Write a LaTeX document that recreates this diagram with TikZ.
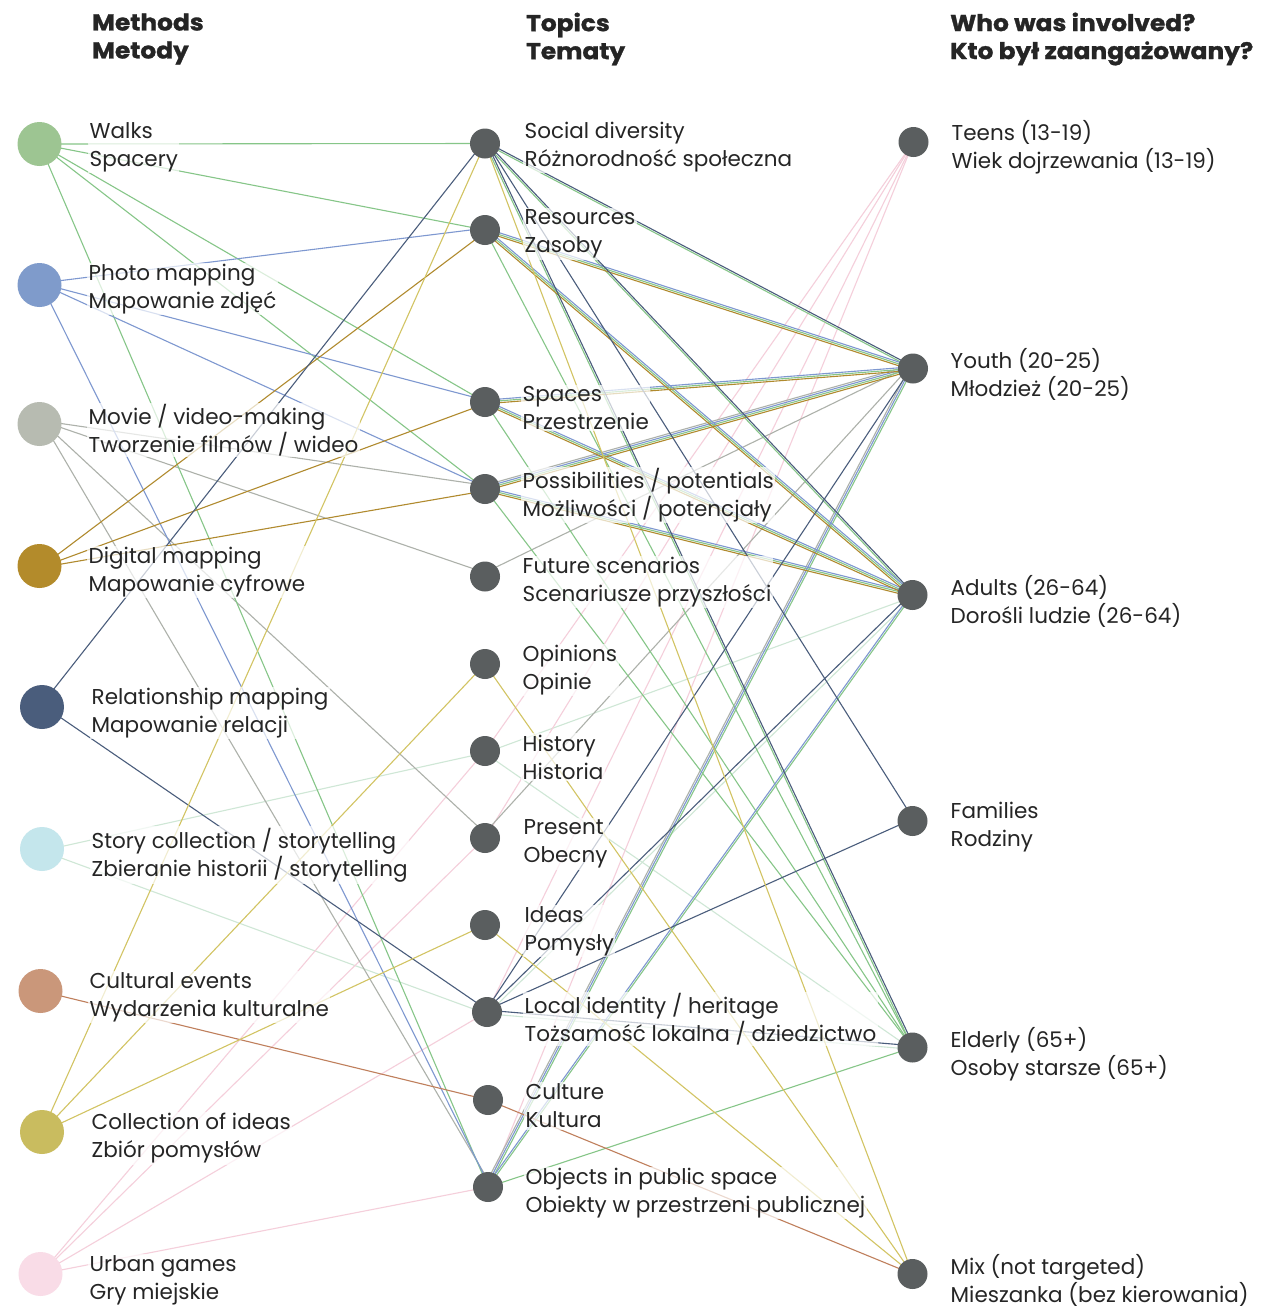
\documentclass[tikz,border=0pt]{standalone}
\usepackage{fontspec}
\setmainfont{Poppins}
\newfontfamily\headfont{Poppins}[FakeStretch=1.08,BoldFeatures={FakeBold=1.2}]
\usetikzlibrary{backgrounds,calc}
\definecolor{txt}{HTML}{252525}
\definecolor{dot}{HTML}{5A5E5F}
\definecolor{cWalk}{HTML}{9DC592}\definecolor{lWalk}{HTML}{86C688}
\definecolor{cPhoto}{HTML}{7F9BCB}\definecolor{lPhoto}{HTML}{7E98D0}
\definecolor{cMovie}{HTML}{B7BBB1}\definecolor{lMovie}{HTML}{ADB1AA}
\definecolor{cDigi}{HTML}{B38B2B}\definecolor{lDigi}{HTML}{B08A2E}
\definecolor{cRel}{HTML}{4A5D7C}\definecolor{lRel}{HTML}{4A5D7C}
\definecolor{cStory}{HTML}{C4E6EC}\definecolor{lStory}{HTML}{CFE7D6}
\definecolor{cCult}{HTML}{CA977A}\definecolor{lCult}{HTML}{BF7F5C}
\definecolor{cColl}{HTML}{C9BC5F}\definecolor{lColl}{HTML}{D2C463}
\definecolor{cUrban}{HTML}{F9DCE7}\definecolor{lUrban}{HTML}{F5CFDB}
\tikzset{
  meth/.style={circle,minimum size=44pt,inner sep=0pt,fill=#1,draw=none},
  dotnode/.style={circle,minimum size=30pt,inner sep=0pt,fill=dot,draw=none},
  lab/.style={anchor=west,align=left,text=txt,font=\fontsize{21.5}{28}\selectfont,
    fill=white,fill opacity=0.7,text opacity=1,inner sep=1.5pt},
  head/.style={anchor=west,align=left,text=txt,font=\headfont\bfseries\fontsize{23}{28}\selectfont,inner sep=0pt},
  lk/.style={draw=#1,line width=1.1pt}
}
\newcommand{\mlinks}[5]{%
  \foreach \t in {#4}{%
    \draw[lk=#2] ($(#1.center)!#3!90:(t\t.center)$) -- ($(t\t.center)!#3!-90:(#1.center)$);
    \foreach \g in {#5}{\draw[lk=#2] ($(t\t.center)!#3!90:(g\g.center)$) -- ($(g\g.center)!#3!-90:(t\t.center)$);}
  }}
\begin{document}
\begin{tikzpicture}[x=1pt,y=-1pt]
\useasboundingbox (0,0) rectangle (1283,1310);
% headers
\node[head] (h1) at (92,39) {Methods\\Metody};
\node[head] (h2) at (526,39) {Topics\\Tematy};
\node[head] (h3) at (950,39) {Who was involved?\\Kto był zaangażowany?};
% labels
\node[lab] (lm1) at (88,147) {Walks\\Spacery};
\node[lab] (lm2) at (87,289) {Photo mapping\\Mapowanie zdjęć};
\node[lab] (lm3) at (87,430) {Movie / video-making\\Tworzenie filmów / wideo};
\node[lab] (lm4) at (87,572) {Digital mapping\\Mapowanie cyfrowe};
\node[lab] (lm5) at (90,713) {Relationship mapping\\Mapowanie relacji};
\node[lab] (lm6) at (90,855) {Story collection / storytelling\\Zbieranie historii / storytelling};
\node[lab] (lm7) at (88,997) {Cultural events\\Wydarzenia kulturalne};
\node[lab] (lm8) at (90,1138) {Collection of ideas\\Zbiór pomysłów};
\node[lab] (lm9) at (88,1280) {Urban games\\Gry miejskie};
\node[lab] (lt1) at (523,147) {Social diversity\\Różnorodność społeczna};
\node[lab] (lt2) at (523,234) {Resources\\Zasoby};
\node[lab] (lt3) at (521,408) {Spaces\\Przestrzenie};
\node[lab] (lt4) at (521,495) {Possibilities / potentials\\Możliwości / potencjały};
\node[lab] (lt5) at (521,582) {Future scenarios\\Scenariusze przyszłości};
\node[lab] (lt6) at (521,670) {Opinions\\Opinie};
\node[lab] (lt7) at (521,757) {History\\Historia};
\node[lab] (lt8) at (522,844) {Present\\Obecny};
\node[lab] (lt9) at (523,931) {Ideas\\Pomysły};
\node[lab] (lt10) at (523,1019) {Local identity / heritage\\Tożsamość lokalna / dziedzictwo};
\node[lab] (lt11) at (524,1106) {Culture\\Kultura};
\node[lab] (lt12) at (524,1193) {Objects in public space\\Obiekty w przestrzeni publicznej};
\node[lab] (lg1) at (950,147) {Teens (13-19)\\Wiek dojrzewania (13-19)};
\node[lab] (lg2) at (949,374) {Youth (20-25)\\Młodzież (20-25)};
\node[lab] (lg3) at (949,601) {Adults (26-64)\\Dorośli ludzie (26-64)};
\node[lab] (lg4) at (949,827) {Families\\Rodziny};
\node[lab] (lg5) at (949,1054) {Elderly (65+)\\Osoby starsze (65+)};
\node[lab] (lg6) at (949,1280) {Mix (not targeted)\\Mieszanka (bez kierowania)};
% method circles
\node[meth=cWalk] (m1) at (39.5,144) {};
\node[meth=cPhoto] (m2) at (39.5,285) {};
\node[meth=cMovie] (m3) at (39.5,424) {};
\node[meth=cDigi] (m4) at (39.5,566) {};
\node[meth=cRel] (m5) at (42,707) {};
\node[meth=cStory] (m6) at (42,849) {};
\node[meth=cCult] (m7) at (40.5,991) {};
\node[meth=cColl] (m8) at (42,1132) {};
\node[meth=cUrban] (m9) at (40.5,1274) {};
% topic dots
\node[dotnode] (t1) at (485,143.5) {};
\node[dotnode] (t2) at (485,230) {};
\node[dotnode] (t3) at (485,402) {};
\node[dotnode] (t4) at (485,489) {};
\node[dotnode] (t5) at (485,576.5) {};
\node[dotnode] (t6) at (485,664) {};
\node[dotnode] (t7) at (485,751) {};
\node[dotnode] (t8) at (485,838) {};
\node[dotnode] (t9) at (485,925) {};
\node[dotnode] (t10) at (487,1012) {};
\node[dotnode] (t11) at (488,1100) {};
\node[dotnode] (t12) at (488,1187) {};
% group dots
\node[dotnode] (g1) at (913.5,142) {};
\node[dotnode] (g2) at (913,368.5) {};
\node[dotnode] (g3) at (912.5,595) {};
\node[dotnode] (g4) at (912.5,821) {};
\node[dotnode] (g5) at (912.5,1047.5) {};
\node[dotnode] (g6) at (912.5,1274) {};
% connectors
\begin{scope}[on background layer]
\fill[white] (0,0) rectangle (1283,1310);
\mlinks{m6}{lStory}{-1.8pt}{7,10}{3,5}
\mlinks{m9}{lUrban}{0pt}{7,8,10,12}{1}
\mlinks{m3}{lMovie}{3.6pt}{4,5,8,12}{2}
\mlinks{m1}{lWalk}{0pt}{1,2,3,4,12}{2,3,5}
\mlinks{m2}{lPhoto}{1.8pt}{2,3,4,12}{2,3}
\mlinks{m4}{lDigi}{-1.8pt}{2,3,4}{2,3}
\mlinks{m5}{lRel}{1.8pt}{1,10}{2,3,4,5}
\mlinks{m7}{lCult}{0pt}{11}{6}
\mlinks{m8}{lColl}{0pt}{1,6,9}{6}
\end{scope}
\end{tikzpicture}
\end{document}
